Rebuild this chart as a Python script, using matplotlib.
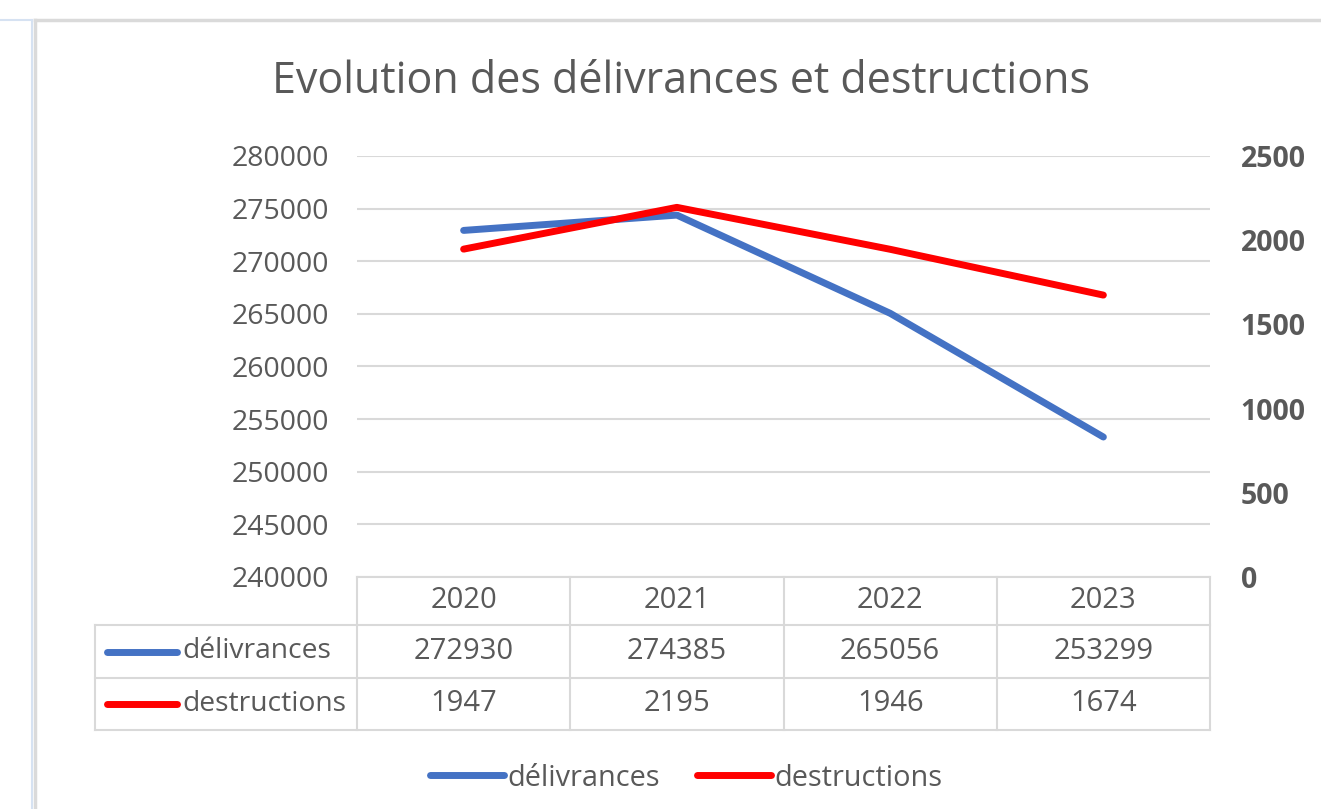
import matplotlib
matplotlib.use("Agg")
import matplotlib.pyplot as plt
from matplotlib.lines import Line2D
from matplotlib.transforms import blended_transform_factory

plt.rcParams['font.family'] = ['Open Sans', 'DejaVu Sans']

years = ['2020', '2021', '2022', '2023']
delivrances = [272930, 274385, 265056, 253299]
destructions = [1947, 2195, 1946, 1674]
series_names = ['délivrances', 'destructions']
title = 'Evolution des délivrances et destructions'

blue = '#4472C4'
red = '#FF0000'
grey_txt = '#595959'
grid_col = '#D9D9D9'

W, H = 1321, 809
fig = plt.figure(figsize=(W / 100, H / 100), dpi=100)

# plot area in pixels: x 357..1210, y 156..577
ax = fig.add_axes([357 / W, 1 - 577 / H, (1210 - 357) / W, (577 - 156) / H])
ax2 = ax.twinx()

x = list(range(len(years)))
ax.plot(x, delivrances, color=blue, lw=5, solid_capstyle='round', zorder=3)
ax2.plot(x, destructions, color=red, lw=5, solid_capstyle='round', zorder=3)

ax.set_xlim(-0.5, len(years) - 0.5)
ax.set_ylim(240000, 280000)
ax.set_yticks(range(240000, 280001, 5000))
ax2.set_ylim(0, 2500)
ax2.set_yticks(range(0, 2501, 500))
ax.grid(axis='y', color=grid_col, lw=1.5)
ax.set_axisbelow(True)
ax.set_xticks([])
for a in (ax, ax2):
    for s in a.spines.values():
        s.set_visible(False)
ax.tick_params(axis='y', length=0, pad=20, labelsize=20.5, labelcolor=grey_txt)
ax2.tick_params(axis='y', length=0, pad=22, labelsize=20.5, labelcolor=grey_txt)
for lab in ax2.get_yticklabels():
    lab.set_fontweight('bold')

# title
fig.text(681 / W, 1 - 82 / H, title, ha='center', va='center',
         fontsize=31, color=grey_txt)

# data table under the plot
tr = blended_transform_factory(ax.transData, ax.transAxes)
def ya(py):
    return 1 - (py - 156) / 421
def xd(px):
    return -0.5 + (px - 357) / ((1210 - 357) / len(years))

row_tops = [577, 625, 678, 730]
lkw = dict(color=grid_col, lw=1.5, clip_on=False, transform=tr)
# horizontal lines
ax.add_line(Line2D([-0.5, len(years) - 0.5], [ya(577)] * 2, **lkw))
for py in row_tops[1:]:
    ax.add_line(Line2D([xd(95), len(years) - 0.5], [ya(py)] * 2, **lkw))
# vertical lines
for i in range(len(years) + 1):
    ax.add_line(Line2D([i - 0.5] * 2, [ya(577), ya(730)], **lkw))
ax.add_line(Line2D([xd(95)] * 2, [ya(625), ya(730)], **lkw))

for i, yr in enumerate(years):
    ax.text(i, ya(601), yr, transform=tr, ha='center', va='center',
            fontsize=21, color=grey_txt)
rows = [delivrances, destructions]
colors = [blue, red]
for r, (vals, name, c) in enumerate(zip(rows, series_names, colors)):
    yc = ya((row_tops[r + 1] + row_tops[r + 2]) / 2)
    for i, v in enumerate(vals):
        ax.text(i, yc, str(v), transform=tr, ha='center', va='center',
                fontsize=21, color=grey_txt)
    ax.add_line(Line2D([xd(107), xd(177)], [yc, yc], color=c, lw=5,
                       solid_capstyle='round', clip_on=False, transform=tr))
    ax.text(xd(182), yc, name, transform=tr, ha='left', va='center',
            fontsize=20.3, color=grey_txt)

# legend
handles = [Line2D([], [], color=c, lw=5, solid_capstyle='round') for c in colors]
fig.legend(handles, series_names, loc='center', bbox_to_anchor=(686 / W, 1 - 778 / H),
           ncol=2, frameon=False, fontsize=20.8, labelcolor=grey_txt,
           handlelength=2.55, handletextpad=0.12, columnspacing=1.3)

# chart border from the screenshot
fig.add_artist(Line2D([35 / W, 1], [1 - 20 / H] * 2, color='#DADADA', lw=2.5))
fig.add_artist(Line2D([35 / W] * 2, [0, 1 - 20 / H], color='#DADADA', lw=2.5))
fig.add_artist(Line2D([32 / W] * 2, [0, 1 - 20 / H], color='#D6E2F2', lw=1.5))
fig.add_artist(Line2D([0, 32 / W], [1 - 20 / H] * 2, color='#D6E2F2', lw=1.5))

fig.savefig('out.png', dpi=100, facecolor='white')
